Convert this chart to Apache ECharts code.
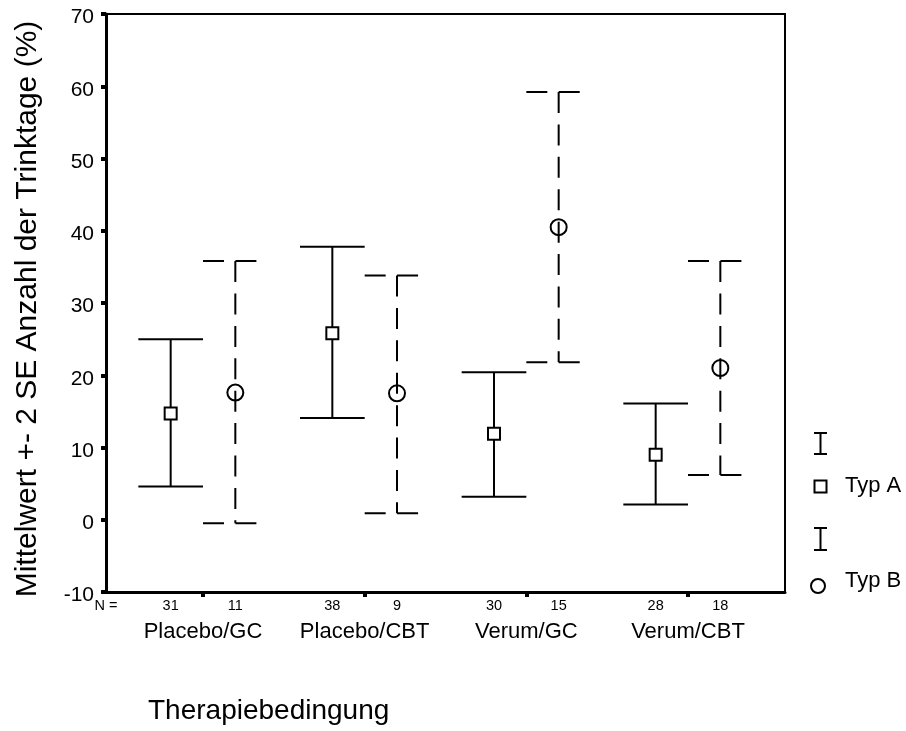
<!DOCTYPE html>
<html><head><meta charset="utf-8">
<script src="https://cdn.jsdelivr.net/npm/echarts@6/dist/echarts.min.js"></script>
<style>html,body{margin:0;padding:0;background:#fff}#c{width:906px;height:731px}</style>
</head><body><div id="c"></div>
<script>
const categories = ['Placebo/GC', 'Placebo/CBT', 'Verum/GC', 'Verum/CBT'];
const nTypA = [31, 38, 30, 28];
const nTypB = [11, 9, 15, 18];
const meanTypA = [14.7, 25.8, 11.9, 9.0];
const lowTypA = [4.6, 14.1, 3.2, 2.1];
const highTypA = [25.0, 37.8, 20.4, 16.1];
const meanTypB = [17.6, 17.5, 40.5, 21.0];
const lowTypB = [-0.5, 0.9, 21.8, 6.2];
const highTypB = [35.8, 33.8, 59.2, 35.8];
const yMin = -10, yMax = 70, yStep = 10;
const groupNames = ['Typ A', 'Typ B'];
const nPrefix = 'N =';
const xTitle = 'Therapiebedingung';
const yTitle = 'Mittelwert +- 2 SE Anzahl der Trinktage (%)';

const FONT = '"Liberation Sans", Arial, Helvetica, sans-serif';
const OFF = 0.2, CAP = 0.2, XMIN = 0.4, XMAX = 4.6;

function rows(mean, low, high) { return categories.map((c, i) => [i, mean[i], low[i], high[i]]); }

function makeRender(offset, dashed, marker) {
  return function (params, api) {
    const x = api.value(0) + 1 + offset;
    const mean = api.value(1), lo = api.value(2), hi = api.value(3);
    const pTop = api.coord([x, hi]);
    const pBot = api.coord([x, lo]);
    const pMean = api.coord([x, mean]);
    const xl = api.coord([x - CAP, hi])[0];
    const xr = api.coord([x + CAP, hi])[0];
    const st = () => ({ stroke: '#000', lineWidth: 2, fill: null, lineDash: dashed ? [21, 11.4] : null });
    const children = [
      { type: 'line', shape: { x1: xl, y1: pTop[1], x2: xr, y2: pTop[1] }, style: st() },
      { type: 'line', shape: { x1: pTop[0], y1: pTop[1], x2: pBot[0], y2: pBot[1] }, style: st() },
      { type: 'line', shape: { x1: xl, y1: pBot[1], x2: xr, y2: pBot[1] }, style: st() }
    ];
    if (marker === 'square') {
      children.push({ type: 'rect', shape: { x: pMean[0] - 6, y: pMean[1] - 6, width: 12, height: 12 }, style: { stroke: '#000', lineWidth: 2, fill: '#fff' } });
    } else {
      children.push({ type: 'circle', shape: { cx: pMean[0], cy: pMean[1], r: 8 }, style: { stroke: '#000', lineWidth: 2, fill: null } });
    }
    return { type: 'group', children };
  };
}

// N label positions (axis values) built from arrays
const nValues = [XMIN];
const nText = {};
nText[XMIN.toFixed(1)] = nPrefix;
categories.forEach((c, i) => {
  const a = +(i + 1 - OFF).toFixed(1), b = +(i + 1 + OFF).toFixed(1);
  nValues.push(a, b);
  nText[a.toFixed(1)] = String(nTypA[i]);
  nText[b.toFixed(1)] = String(nTypB[i]);
});
const catValues = categories.map((c, i) => i + 1);

const chart = echarts.init(document.getElementById('c'), null, { renderer: 'canvas' });
chart.setOption({
  animation: false,
  backgroundColor: '#fff',
  textStyle: { fontFamily: FONT, color: '#000' },
  grid: { left: 106, right: 121, top: 14, bottom: 139, show: true, borderColor: '#000', borderWidth: 2, containLabel: false },
  xAxis: [
    {
      type: 'value', min: XMIN, max: XMAX, position: 'bottom', offset: 0,
      axisLine: { show: true, onZero: false, lineStyle: { color: '#000', width: 3 } },
      axisTick: { show: true, inside: false, length: 5, lineStyle: { color: '#000', width: 4 }, customValues: catValues },
      axisLabel: { show: true, customValues: catValues, margin: 29, fontSize: 22, color: '#000', fontFamily: FONT,
        formatter: v => categories[Math.round(v) - 1] || '' },
      splitLine: { show: false }
    },
    {
      type: 'value', min: XMIN, max: XMAX, position: 'bottom', offset: 0,
      axisLine: { show: false, onZero: false }, axisTick: { show: false }, splitLine: { show: false },
      axisLabel: { show: true, customValues: nValues, showMinLabel: true, margin: 6, fontSize: 14.5, color: '#000', fontFamily: FONT,
        formatter: v => nText[(+v).toFixed(1)] || '' }
    }
  ],
  yAxis: {
    type: 'value', min: yMin, max: yMax, interval: yStep,
    axisLine: { show: true, onZero: false, lineStyle: { color: '#000', width: 3 } },
    axisTick: { show: true, length: 5, lineStyle: { color: '#000', width: 4 } },
    axisLabel: { color: '#000', margin: 12, fontFamily: FONT,
      formatter: v => '{t|' + v + '}',
      rich: { t: { fontSize: 21, fontFamily: FONT, color: '#000', padding: [7, 0, 0, 0] } } },
    splitLine: { show: false }
  },
  graphic: [
    { type: 'text', x: 28, y: 309, rotation: Math.PI / 2, style: { text: yTitle, font: '30px ' + FONT, fill: '#000', align: 'center', verticalAlign: 'middle' } },
    { type: 'text', left: 148, top: 697, style: { text: xTitle, font: '28px ' + FONT, fill: '#000' } },
    { type: 'group', children: [
      { type: 'line', shape: { x1: 814, y1: 433, x2: 827, y2: 433 }, style: { stroke: '#000', lineWidth: 2 } },
      { type: 'line', shape: { x1: 820.5, y1: 433, x2: 820.5, y2: 454 }, style: { stroke: '#000', lineWidth: 2 } },
      { type: 'line', shape: { x1: 814, y1: 454, x2: 827, y2: 454 }, style: { stroke: '#000', lineWidth: 2 } },
      { type: 'rect', shape: { x: 814.5, y: 480.5, width: 12, height: 12 }, style: { stroke: '#000', lineWidth: 2, fill: '#fff' } },
      { type: 'text', x: 845, y: 486, style: { text: groupNames[0], font: '22px ' + FONT, fill: '#000', verticalAlign: 'middle' } },
      { type: 'line', shape: { x1: 814, y1: 528, x2: 827, y2: 528 }, style: { stroke: '#000', lineWidth: 2 } },
      { type: 'line', shape: { x1: 820.5, y1: 528, x2: 820.5, y2: 550 }, style: { stroke: '#000', lineWidth: 2 } },
      { type: 'line', shape: { x1: 814, y1: 550, x2: 827, y2: 550 }, style: { stroke: '#000', lineWidth: 2 } },
      { type: 'circle', shape: { cx: 818, cy: 586, r: 7 }, style: { stroke: '#000', lineWidth: 2, fill: null } },
      { type: 'text', x: 845, y: 581, style: { text: groupNames[1], font: '22px ' + FONT, fill: '#000', verticalAlign: 'middle' } }
    ] }
  ],
  series: [
    { name: groupNames[0], type: 'custom', xAxisIndex: 0, renderItem: makeRender(-OFF, false, 'square'), data: rows(meanTypA, lowTypA, highTypA), clip: false },
    { name: groupNames[1], type: 'custom', xAxisIndex: 0, renderItem: makeRender(OFF, true, 'circle'), data: rows(meanTypB, lowTypB, highTypB), clip: false }
  ]
});
</script>
</body></html>
